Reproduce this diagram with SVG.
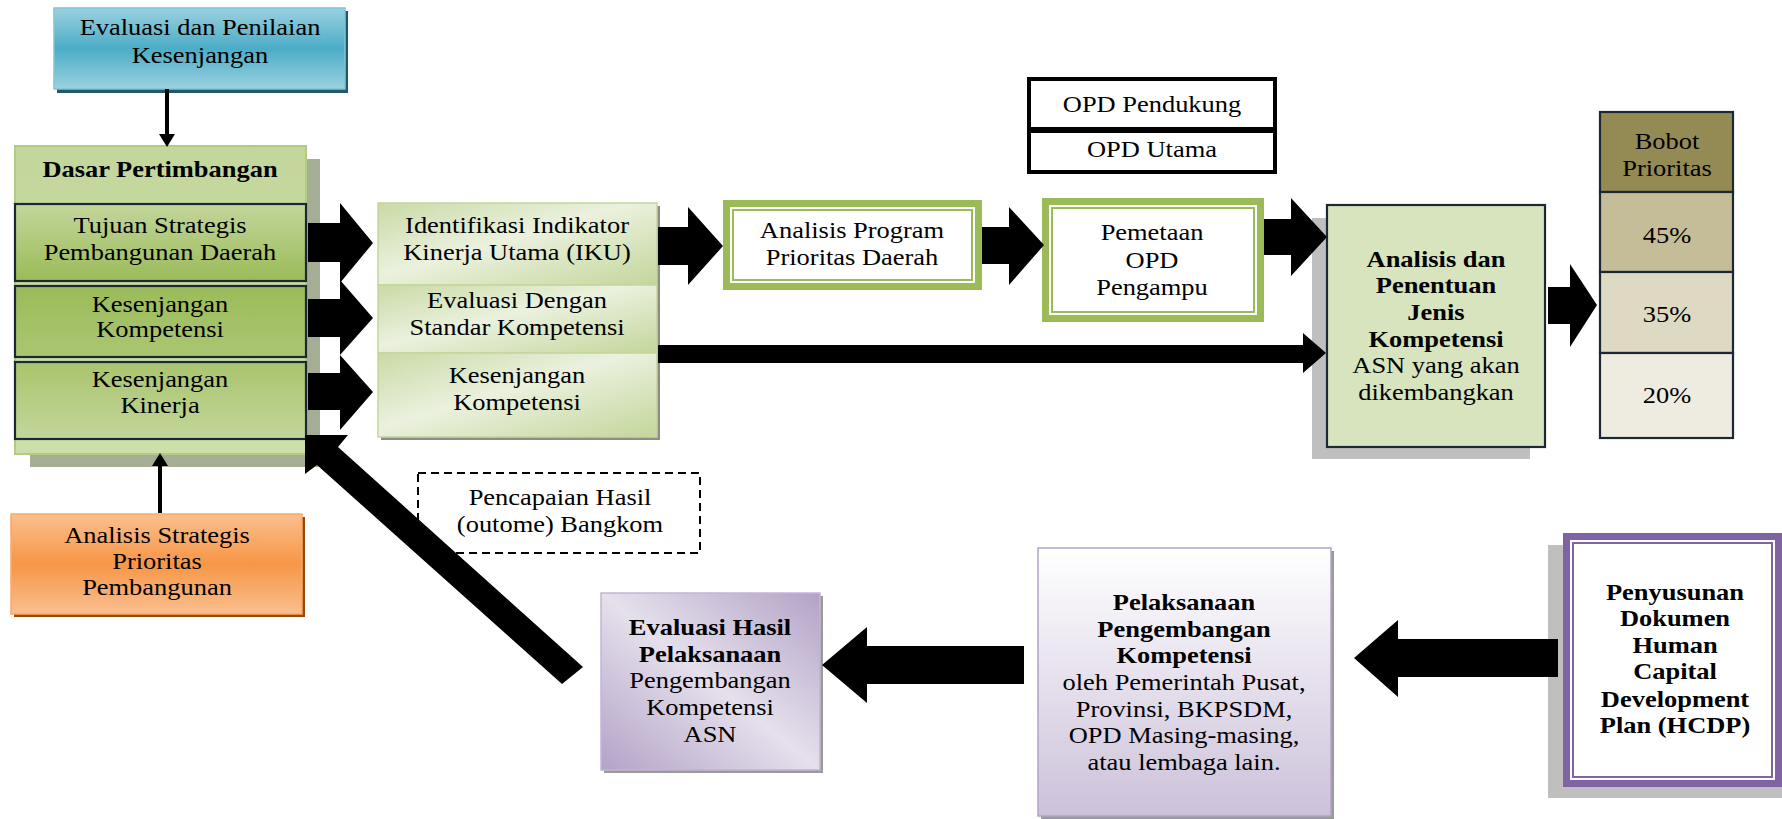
<svg xmlns="http://www.w3.org/2000/svg" width="1782" height="819" viewBox="0 0 1782 819">
<defs>
<linearGradient id="blueG" x1="0" y1="0" x2="0" y2="1"><stop offset="0" stop-color="#9bd1e0"/><stop offset="0.5" stop-color="#4bacc6"/><stop offset="1" stop-color="#9bd1e0"/></linearGradient>
<linearGradient id="orangeG" x1="0" y1="0" x2="0" y2="1"><stop offset="0" stop-color="#fabf8f"/><stop offset="0.5" stop-color="#f79646"/><stop offset="1" stop-color="#fabf8f"/></linearGradient>
<linearGradient id="dasarG" x1="0" y1="0" x2="0" y2="1"><stop offset="0" stop-color="#c3d69b"/><stop offset="1" stop-color="#cddfa9"/></linearGradient>
<linearGradient id="tujG" x1="0" y1="0" x2="0" y2="1"><stop offset="0" stop-color="#c3d69b"/><stop offset="1" stop-color="#9bbb59"/></linearGradient>
<linearGradient id="kkG" x1="0" y1="0" x2="0" y2="1"><stop offset="0" stop-color="#9bbb59"/><stop offset="1" stop-color="#abc672"/></linearGradient>
<linearGradient id="kinG" x1="0" y1="0" x2="0" y2="1"><stop offset="0" stop-color="#a9c46c"/><stop offset="1" stop-color="#c3d69b"/></linearGradient>
<linearGradient id="colG" x1="0" y1="0" x2="1" y2="1"><stop offset="0" stop-color="#c9daa6"/><stop offset="0.45" stop-color="#ebf1de"/><stop offset="1" stop-color="#c3d69b"/></linearGradient>
<linearGradient id="purpG" x1="1" y1="0" x2="0" y2="1"><stop offset="0" stop-color="#b3a2c7"/><stop offset="0.5" stop-color="#e5e0ec"/><stop offset="1" stop-color="#b3a2c7"/></linearGradient>
<linearGradient id="pelG" x1="0" y1="0" x2="0" y2="1"><stop offset="0" stop-color="#ffffff"/><stop offset="1" stop-color="#ccc1da"/></linearGradient>
</defs>
<style>
text{font-family:"Liberation Serif","Times New Roman",serif;font-size:23px;fill:#000;text-anchor:middle}
.b{font-weight:bold}
.dk{stroke:#1c2833;stroke-width:2.2;fill:none}
.blk{fill:#000}
</style>

<g id="evaluasi-penilaian">
  <rect x="57" y="11" width="291" height="82" fill="#215968"/>
  <rect x="54" y="8" width="291" height="81" fill="url(#blueG)" stroke="#7fc4d6" stroke-width="1.5"/>
  <g transform="matrix(1.15 0 0 1 200 0)"><text x="0" y="35">Evaluasi dan Penilaian</text><text x="0" y="63">Kesenjangan</text></g>
</g>

<g id="dasar-pertimbangan">
  <rect x="30" y="159" width="290" height="308" fill="#a6ad95"/>
  <rect x="15" y="146" width="291" height="308" fill="url(#dasarG)" stroke="#b2cb80" stroke-width="2"/>
  <g transform="matrix(1.15 0 0 1 160 0)"><text class="b" x="0" y="177">Dasar Pertimbangan</text></g>
  <g id="tujuan-strategis">
    <rect x="15" y="204" width="291" height="77" class="dk" style="fill:url(#tujG)"/>
    <g transform="matrix(1.15 0 0 1 160 0)"><text x="0" y="233">Tujuan Strategis</text><text x="0" y="260">Pembangunan Daerah</text></g>
  </g>
  <g id="kesenjangan-kompetensi-1">
    <rect x="15" y="286" width="291" height="71" class="dk" style="fill:url(#kkG)"/>
    <g transform="matrix(1.15 0 0 1 160 0)"><text x="0" y="312">Kesenjangan</text><text x="0" y="337">Kompetensi</text></g>
  </g>
  <g id="kesenjangan-kinerja">
    <rect x="15" y="362" width="291" height="77" class="dk" style="fill:url(#kinG)"/>
    <g transform="matrix(1.15 0 0 1 160 0)"><text x="0" y="387">Kesenjangan</text><text x="0" y="413">Kinerja</text></g>
  </g>
</g>

<g id="analisis-strategis">
  <rect x="14" y="517" width="291" height="100" fill="#984807"/>
  <rect x="11" y="514" width="291" height="100" fill="url(#orangeG)" stroke="#f9a86a" stroke-width="1.5"/>
  <g transform="matrix(1.15 0 0 1 157 0)"><text x="0" y="543">Analisis Strategis</text><text x="0" y="569">Prioritas</text><text x="0" y="595">Pembangunan</text></g>
</g>

<g id="kolom-iku">
  <rect x="381" y="206" width="279" height="234" fill="#8c8c8c"/>
  <g id="identifikasi-iku">
    <rect x="378" y="203" width="279" height="82" fill="url(#colG)" stroke="#c3d69b" stroke-width="1.5"/>
    <g transform="matrix(1.15 0 0 1 517 0)"><text x="0" y="233">Identifikasi Indikator</text><text x="0" y="260">Kinerja Utama (IKU)</text></g>
  </g>
  <g id="evaluasi-standar">
    <rect x="378" y="285" width="279" height="68" fill="url(#colG)" stroke="#c3d69b" stroke-width="1.5"/>
    <g transform="matrix(1.15 0 0 1 517 0)"><text x="0" y="308">Evaluasi Dengan</text><text x="0" y="335">Standar Kompetensi</text></g>
  </g>
  <g id="kesenjangan-kompetensi-2">
    <rect x="378" y="353" width="279" height="84" fill="url(#colG)" stroke="#c3d69b" stroke-width="1.5"/>
    <g transform="matrix(1.15 0 0 1 517 0)"><text x="0" y="383">Kesenjangan</text><text x="0" y="410">Kompetensi</text></g>
  </g>
</g>

<g id="analisis-program">
  <rect x="726.5" y="203.5" width="252" height="83" fill="#fff" stroke="#9bbb59" stroke-width="7"/>
  <rect x="733" y="210" width="239" height="70" fill="none" stroke="#9bbb59" stroke-width="2"/>
  <g transform="matrix(1.15 0 0 1 852 0)"><text x="0" y="238">Analisis Program</text><text x="0" y="265">Prioritas Daerah</text></g>
</g>

<g id="opd">
  <rect x="1029" y="79" width="246" height="50" fill="#fff" stroke="#000" stroke-width="4"/>
  <rect x="1029" y="131" width="246" height="41" fill="#fff" stroke="#000" stroke-width="4"/>
  <g transform="matrix(1.15 0 0 1 1152 0)"><text x="0" y="112">OPD Pendukung</text><text x="0" y="157">OPD Utama</text></g>
</g>

<g id="pemetaan-opd">
  <rect x="1045.5" y="201.5" width="215" height="117" fill="#fff" stroke="#9bbb59" stroke-width="7"/>
  <rect x="1052" y="208" width="202" height="104" fill="none" stroke="#9bbb59" stroke-width="2"/>
  <g transform="matrix(1.15 0 0 1 1152 0)"><text x="0" y="240">Pemetaan</text><text x="0" y="268">OPD</text><text x="0" y="295">Pengampu</text></g>
</g>

<g id="analisis-penentuan">
  <rect x="1312" y="218" width="218" height="241" fill="#bfbfbf"/>
  <rect x="1327" y="205" width="218" height="242" class="dk" style="fill:#d7e4bd"/>
  <g transform="matrix(1.15 0 0 1 1436 0)"><text class="b" x="0" y="267">Analisis dan</text><text class="b" x="0" y="293">Penentuan</text><text class="b" x="0" y="320">Jenis</text><text class="b" x="0" y="347">Kompetensi</text><text x="0" y="373">ASN yang akan</text><text x="0" y="400">dikembangkan</text></g>
</g>

<g id="bobot-prioritas">
  <rect x="1600" y="112" width="133" height="80" class="dk" style="fill:#948a54"/>
  <rect x="1600" y="192" width="133" height="80" class="dk" style="fill:#c4bd97"/>
  <rect x="1600" y="272" width="133" height="81" class="dk" style="fill:#ddd9c3"/>
  <rect x="1600" y="353" width="133" height="85" class="dk" style="fill:#eeece1"/>
  <g transform="matrix(1.15 0 0 1 1667 0)"><text x="0" y="149">Bobot</text><text x="0" y="176">Prioritas</text><text x="0" y="243">45%</text><text x="0" y="322">35%</text><text x="0" y="403">20%</text></g>
</g>

<g id="pencapaian-hasil">
  <rect x="418" y="473" width="282" height="80" fill="none" stroke="#000" stroke-width="2" stroke-dasharray="8,5"/>
  <g transform="matrix(1.15 0 0 1 560 0)"><text x="0" y="505">Pencapaian Hasil</text><text x="0" y="532">(outome) Bangkom</text></g>
</g>

<g id="evaluasi-hasil">
  <rect x="604" y="596" width="219" height="177" fill="#9a9a9a"/>
  <rect x="601" y="593" width="219" height="177" fill="url(#purpG)" stroke="#c2b5d4" stroke-width="1.5"/>
  <g transform="matrix(1.15 0 0 1 710 0)"><text class="b" x="0" y="635">Evaluasi Hasil</text><text class="b" x="0" y="662">Pelaksanaan</text><text x="0" y="688">Pengembangan</text><text x="0" y="715">Kompetensi</text><text x="0" y="742">ASN</text></g>
</g>

<g id="pelaksanaan">
  <rect x="1041" y="551" width="293" height="268" fill="#9a9a9a"/>
  <rect x="1038" y="548" width="293" height="268" fill="url(#pelG)" stroke="#b3a2c7" stroke-width="1.5"/>
  <g transform="matrix(1.15 0 0 1 1184 0)"><text class="b" x="0" y="610">Pelaksanaan</text><text class="b" x="0" y="637">Pengembangan</text><text class="b" x="0" y="663">Kompetensi</text><text x="0" y="690">oleh Pemerintah Pusat,</text><text x="0" y="717">Provinsi, BKPSDM,</text><text x="0" y="743">OPD Masing-masing,</text><text x="0" y="770">atau lembaga lain.</text></g>
</g>

<g id="hcdp">
  <rect x="1548" y="545" width="234" height="253" fill="#bfbfbf"/>
  <rect x="1566.5" y="536.5" width="212" height="247" fill="#fff" stroke="#8064a2" stroke-width="7"/>
  <rect x="1573" y="543" width="199" height="234" fill="none" stroke="#8064a2" stroke-width="2"/>
  <g transform="matrix(1.15 0 0 1 1675 0)"><text class="b" x="0" y="600">Penyusunan</text><text class="b" x="0" y="626">Dokumen</text><text class="b" x="0" y="653">Human</text><text class="b" x="0" y="679">Capital</text><text class="b" x="0" y="707">Development</text><text class="b" x="0" y="733">Plan (HCDP)</text></g>
</g>

<g id="connectors">
  <line x1="167" y1="89" x2="167" y2="136" stroke="#000" stroke-width="4"/>
  <polygon class="blk" points="159,134 175,134 167,147"/>
  <line x1="160" y1="513" x2="160" y2="464" stroke="#000" stroke-width="4"/>
  <polygon class="blk" points="152,466 168,466 160,453"/>
  <polygon class="blk" points="308,223 340,223 340,203 373,243 340,283 340,262 308,262"/>
  <polygon class="blk" points="308,299 340,299 340,280 373,318 340,355 340,337 308,337"/>
  <polygon class="blk" points="308,373 340,373 340,355 373,392 340,430 340,410 308,410"/>
  <polygon class="blk" points="658,227 688,227 688,207 723,246 688,285 688,265 658,265"/>
  <polygon class="blk" points="982,227 1009,227 1009,207 1044,245 1009,285 1009,264 982,264"/>
  <polygon class="blk" points="1264,219 1291,219 1291,198 1327,237 1291,276 1291,255 1264,255"/>
  <polygon class="blk" points="658,345 1303,345 1303,333 1326,353 1303,373 1303,363 658,363"/>
  <polygon class="blk" points="1548,287 1570,287 1570,264 1597,305 1570,347 1570,324 1548,324"/>
  <polygon class="blk" points="1558,639 1398,639 1398,620 1354,658 1398,697 1398,677 1558,677"/>
  <polygon class="blk" points="1024,646 867,646 867,627 822,665 867,703 867,684 1024,684"/>
  <polygon class="blk" points="305,435 348,435 338,447 583,667 562,684 317,465 305,474"/>
</g>
</svg>
